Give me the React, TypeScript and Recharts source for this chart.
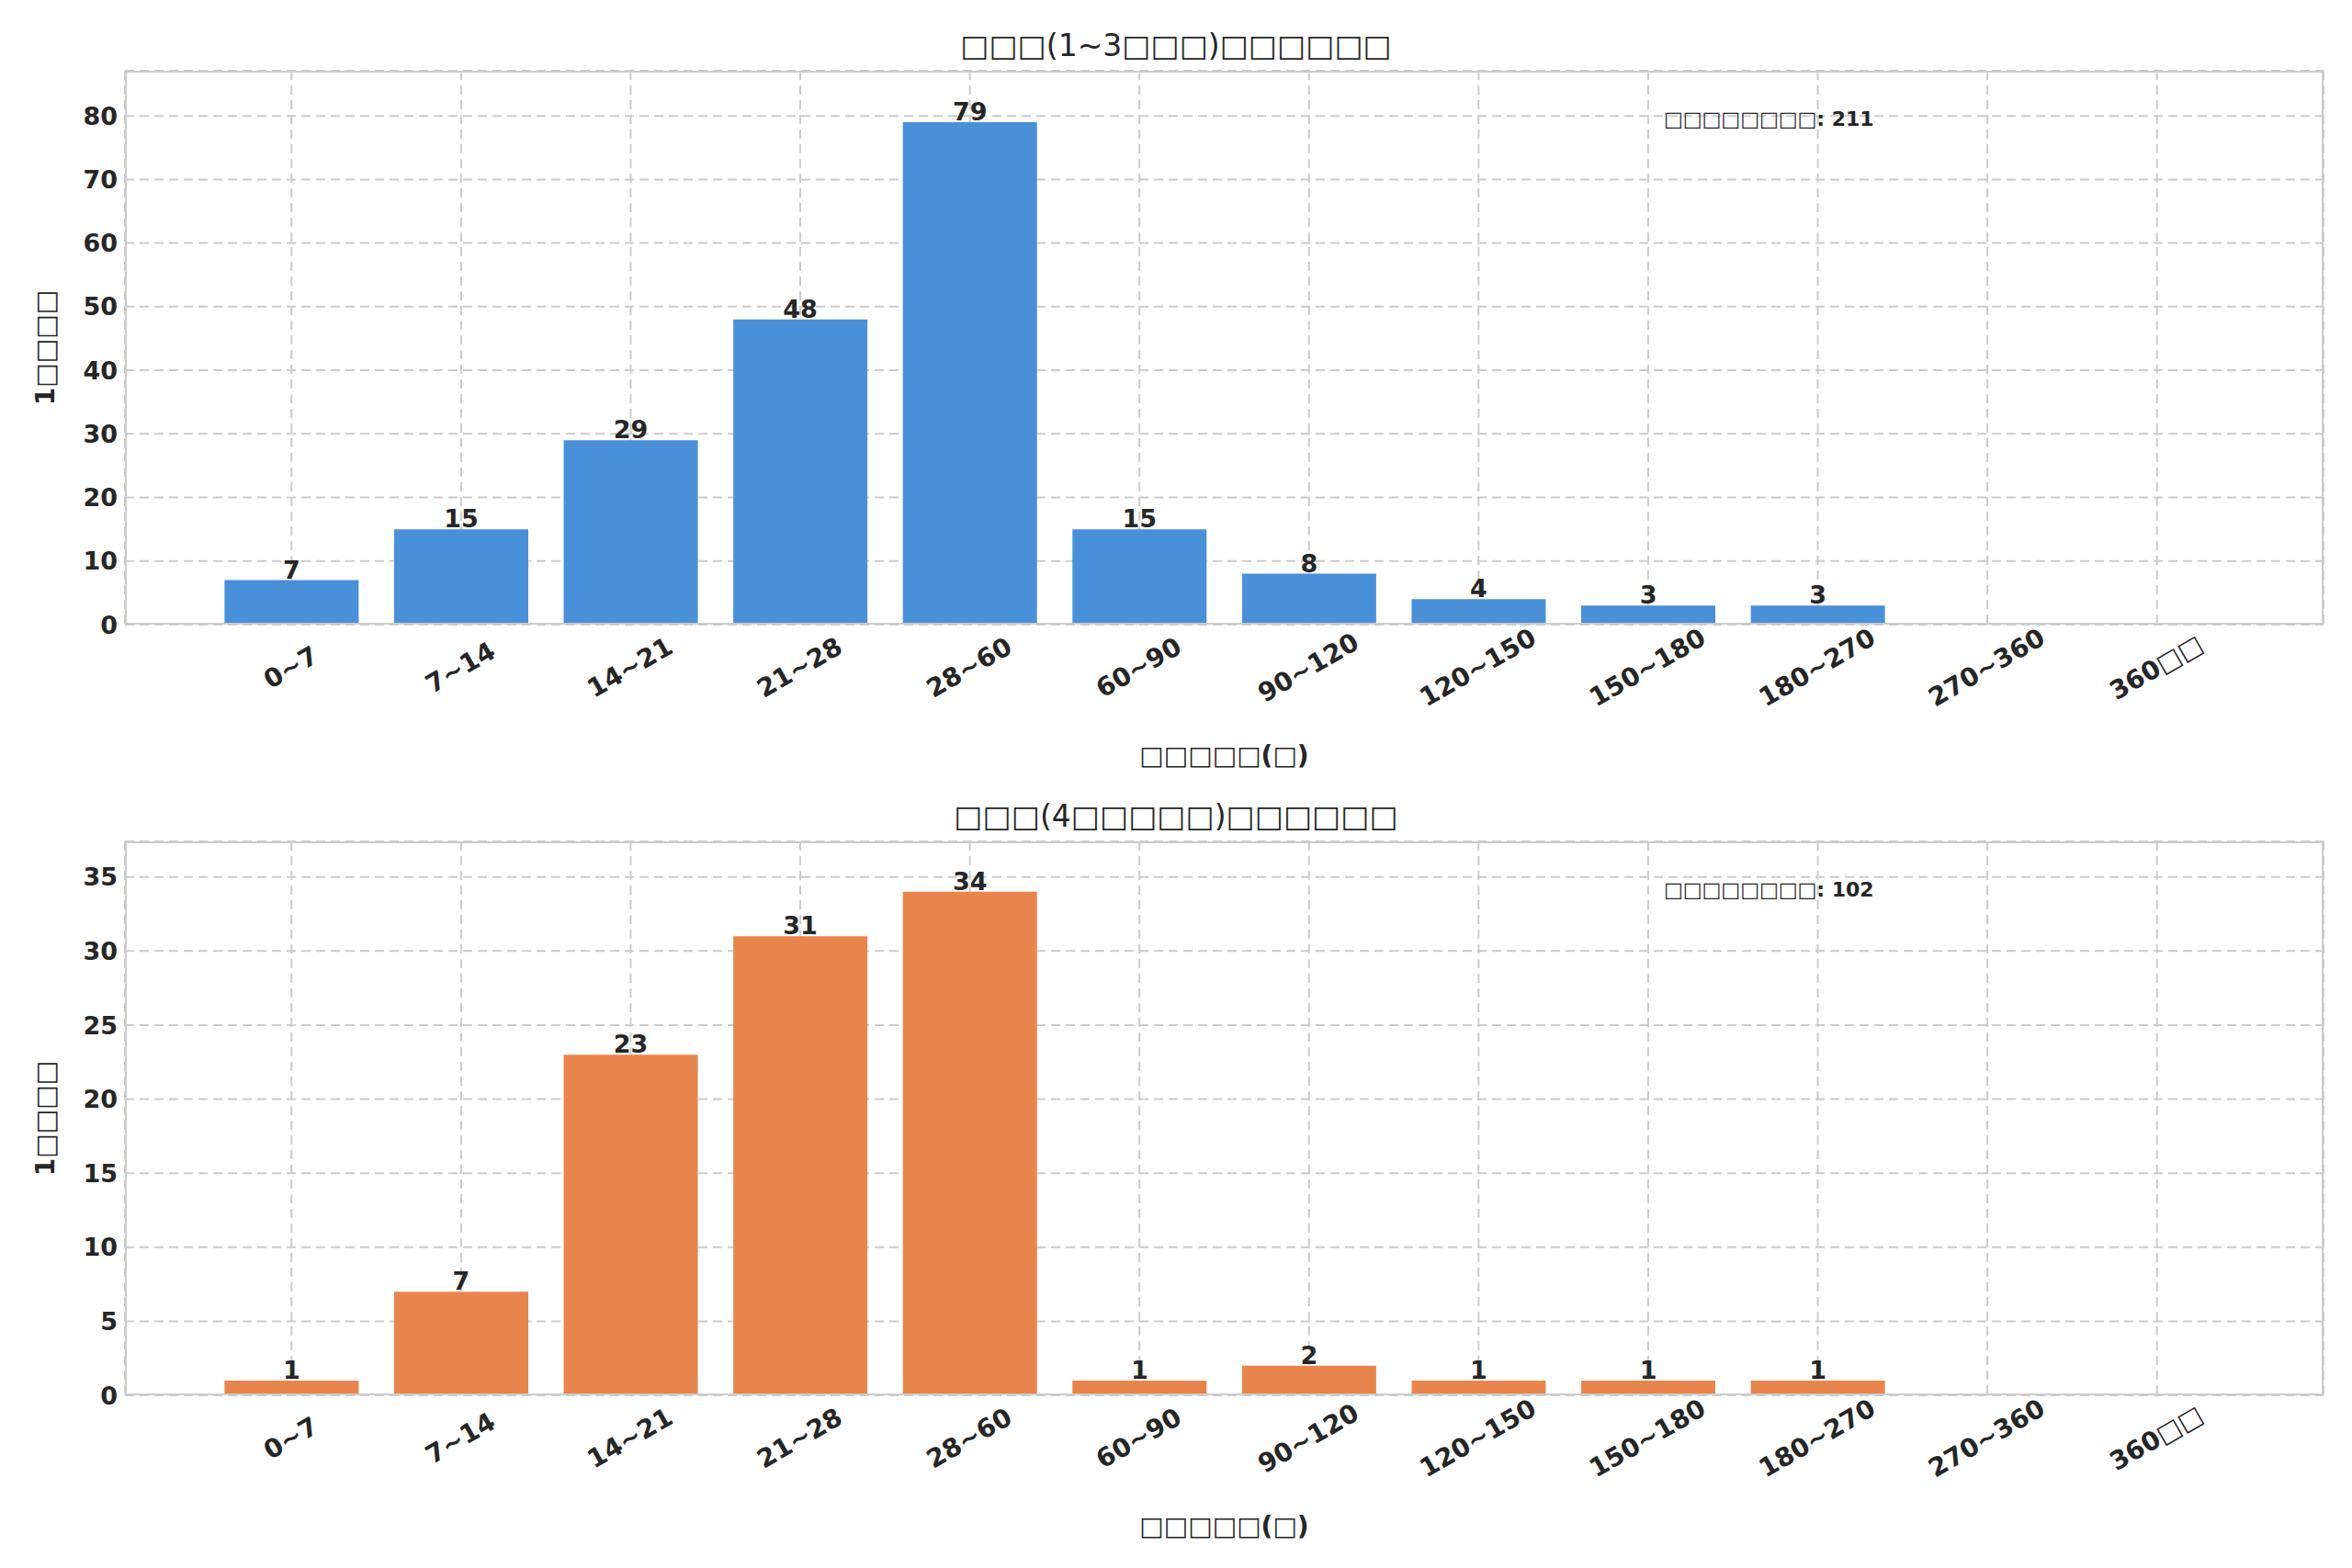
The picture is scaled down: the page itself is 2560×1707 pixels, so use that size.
import React from 'react';
import { BarChart, Bar, XAxis, YAxis, CartesianGrid, LabelList } from 'recharts';

const categories = ['0~7', '7~14', '14~21', '21~28', '28~60', '60~90', '90~120', '120~150', '150~180', '180~270', '270~360', '360□□'];
const groupA = [7, 15, 29, 48, 79, 15, 8, 4, 3, 3, 0, 0];
const groupB = [1, 7, 23, 31, 34, 1, 2, 1, 1, 1, 0, 0];
const ticksA = [0, 10, 20, 30, 40, 50, 60, 70, 80];
const ticksB = [0, 5, 10, 15, 20, 25, 30, 35];

const FONT = 'DejaVu Sans, sans-serif';
const W = 2544;
const H = 840;
const M = { top: 69, right: 23, left: 38, bottom: 18 };

const Tick = (p: any) => (
  <text x={p.x} y={p.y + 40} textAnchor="middle" dominantBaseline="middle" fontSize={28} fontWeight="bold"
    fill="#262626" fontFamily={FONT} transform={`rotate(-30 ${p.x} ${p.y + 40})`}>{p.payload.value}</text>
);

const topLabel = (p: any) => p.value > 0 ? (
  <text x={p.x + p.width / 2} y={p.y - 2} textAnchor="middle" fontSize={27} fontWeight="bold" fill="#262626" fontFamily={FONT}>{p.value}</text>
) : null;

function Panel({ values, ticks, max, color, title, total, top }: any) {
  const data = categories.map((c, i) => ({ c, v: values[i] }));
  return (
    <div style={{ position: 'absolute', left: 0, top, width: W, height: H }}>
      <BarChart width={W} height={H} data={data} margin={M} barCategoryGap="10.5%">
        <CartesianGrid stroke="#cccccc" strokeDasharray="10 6" strokeWidth={2} />
        <XAxis dataKey="c" height={150} padding={{ left: 89, right: 89 }} tick={<Tick />} tickLine={false} axisLine={false} interval={0}
          label={{ value: '□□□□□(□)', position: 'insideBottom', offset: 0, dy: 2, fontSize: 28, fontWeight: 'bold', fill: '#262626', fontFamily: FONT }} />
        <YAxis width={90} domain={[0, max]} ticks={ticks} allowDataOverflow tickLine={false} axisLine={false}
          tick={{ fontSize: 27, fontWeight: 'bold', fill: '#262626', fontFamily: FONT }}
          label={{ value: '1□□□□', angle: -90, position: 'insideLeft', textAnchor: 'middle', dx: -2, fontSize: 28, fontWeight: 'bold', fill: '#262626', fontFamily: FONT }} />
        <Bar dataKey="v" fill={color} isAnimationActive={false}>
          <LabelList dataKey="v" content={topLabel} />
        </Bar>
      </BarChart>
      <div style={{ position: 'absolute', left: M.left + 90, top: M.top, width: W - M.left - 90 - M.right - 4, height: H - M.top - M.bottom - 150 - 4, border: '2px solid #cccccc', pointerEvents: 'none' }} />
      <div style={{ position: 'absolute', left: 0, width: W, top: M.top - 47, textAlign: 'center', fontSize: 33, color: '#262626', fontFamily: FONT }}>{title}</div>
      <div style={{ position: 'absolute', left: 1803, top: M.top + 40, fontSize: 22, fontWeight: 'bold', color: '#262626', fontFamily: FONT }}>□□□□□□□□: {total}</div>
    </div>
  );
}

export default function App() {
  return (
    <div style={{ position: 'relative', width: W, height: 1690, background: '#fff' }}>
      <Panel values={groupA} ticks={ticksA} max={87.1} color="#4a90d9" title="□□□(1~3□□□)□□□□□□" total={211} top={0} />
      <Panel values={groupB} ticks={ticksB} max={37.4} color="#e8854d" title="□□□(4□□□□□)□□□□□□" total={102} top={839} />
    </div>
  );
}
